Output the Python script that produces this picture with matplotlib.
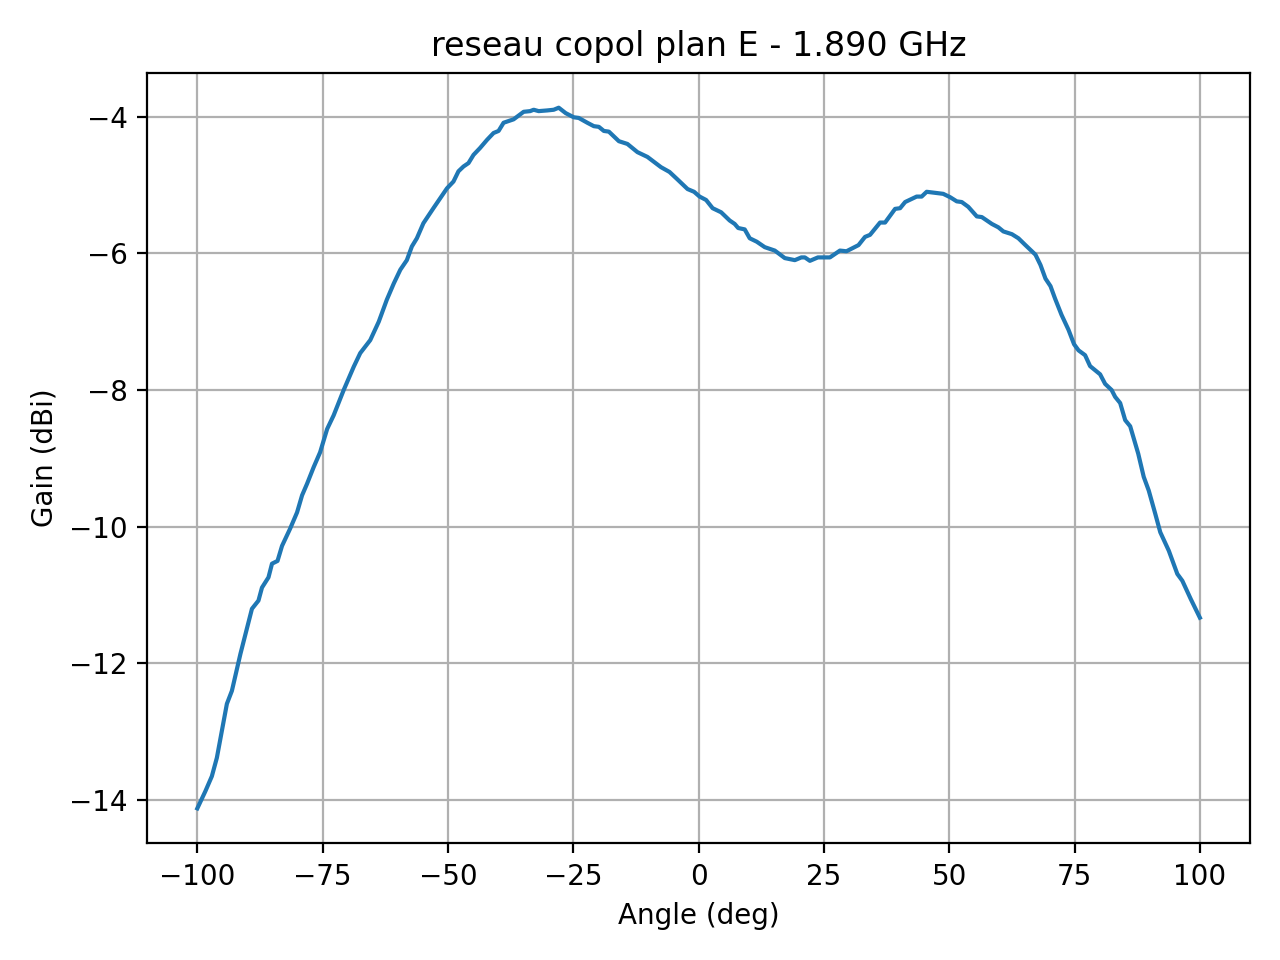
import matplotlib
matplotlib.use("Agg")
import matplotlib.pyplot as plt

angle = [-100, -98.4, -97.1, -96.1, -94.1, -93.1, -91.4, -89.1, -87.8, -87.1,
         -85.8, -85.1, -84.0, -83.1, -81.5, -80.1, -79.1, -78.1, -76.8, -75.5,
         -74.1, -72.8, -70.8, -68.8, -67.5, -65.5, -63.8, -62.2, -60.8, -59.5,
         -58.2, -57.2, -56.2, -54.9, -52.9, -50.2, -48.9, -47.9, -46.9, -45.9,
         -44.9, -43.6, -42.2, -40.9, -39.9, -38.9, -36.9, -34.9, -33.6, -32.9,
         -31.9, -30.2, -28.9, -27.9, -26.5, -24.9, -23.9, -22.2, -20.9, -19.9,
         -18.9, -17.9, -15.9, -14.2, -12.2, -10.2, -7.5, -5.8, -4.2, -2.2,
         -0.9, 0.2, 1.5, 2.8, 4.5, 6.2, 7.2, 7.9, 9.2, 10.2,
         11.6, 13.2, 15.2, 17.2, 19.2, 20.5, 21.2, 22.2, 23.8, 26.2,
         28.2, 29.5, 31.9, 33.2, 34.2, 36.2, 37.2, 39.2, 40.2, 41.2,
         43.5, 44.5, 45.5, 48.8, 50.2, 51.5, 52.5, 53.8, 55.5, 56.5,
         58.5, 59.8, 60.8, 62.5, 63.8, 65.2, 67.2, 68.2, 69.2, 70.2,
         71.1, 72.4, 73.8, 74.9, 75.8, 77.1, 78.1, 80.1, 81.1, 82.4,
         83.1, 84.1, 85.1, 86.1, 87.7, 88.8, 89.8, 91.1, 92.1, 93.8,
         95.5, 96.5, 98.2, 100]
gain = [-14.12, -13.87, -13.65, -13.38, -12.59, -12.40, -11.86, -11.20, -11.08, -10.89,
        -10.74, -10.54, -10.50, -10.28, -10.03, -9.79, -9.54, -9.37, -9.13, -8.91,
        -8.57, -8.37, -8.00, -7.66, -7.46, -7.27, -7.00, -6.68, -6.44, -6.24,
        -6.10, -5.90, -5.78, -5.56, -5.34, -5.05, -4.95, -4.80, -4.73, -4.68,
        -4.56, -4.46, -4.34, -4.24, -4.21, -4.09, -4.04, -3.93, -3.92, -3.90,
        -3.92, -3.91, -3.90, -3.87, -3.95, -4.01, -4.02, -4.09, -4.14, -4.15,
        -4.21, -4.22, -4.36, -4.40, -4.52, -4.59, -4.74, -4.81, -4.92, -5.06,
        -5.10, -5.17, -5.22, -5.34, -5.40, -5.52, -5.57, -5.63, -5.65, -5.78,
        -5.83, -5.91, -5.96, -6.07, -6.10, -6.06, -6.06, -6.11, -6.06, -6.06,
        -5.96, -5.97, -5.88, -5.76, -5.73, -5.55, -5.55, -5.35, -5.34, -5.25,
        -5.17, -5.17, -5.10, -5.13, -5.18, -5.24, -5.25, -5.32, -5.46, -5.47,
        -5.57, -5.62, -5.68, -5.72, -5.78, -5.88, -6.02, -6.17, -6.37, -6.48,
        -6.66, -6.90, -7.12, -7.33, -7.42, -7.49, -7.65, -7.77, -7.91, -8.00,
        -8.10, -8.19, -8.44, -8.53, -8.93, -9.27, -9.47, -9.81, -10.08, -10.35,
        -10.69, -10.79, -11.06, -11.33]

fig, ax = plt.subplots(figsize=(6.4, 4.8), dpi=200)
ax.plot(angle, gain)
ax.set_title("reseau copol plan E - 1.890 GHz")
ax.set_xlabel("Angle (deg)")
ax.set_ylabel("Gain (dBi)")
ax.grid(True)
plt.tight_layout()
plt.savefig("out.png")
